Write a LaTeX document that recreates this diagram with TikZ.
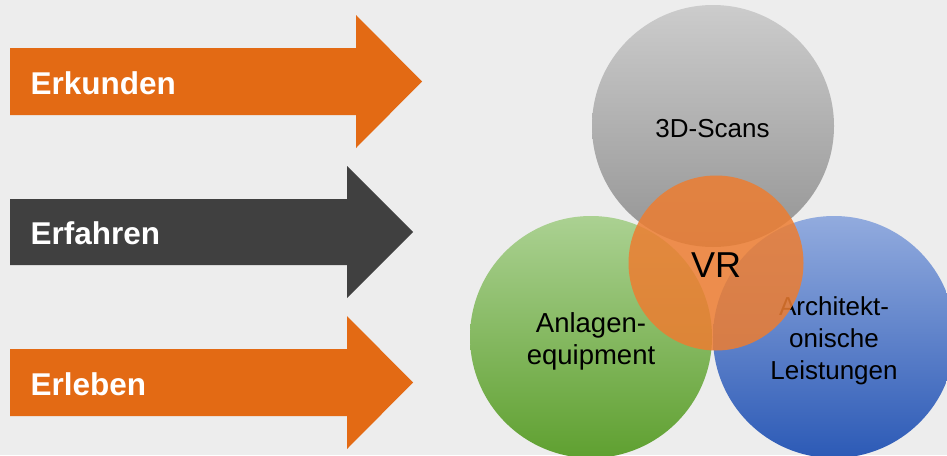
\documentclass[tikz,border=0pt]{standalone}
\usepackage{fontspec}
\setmainfont{Liberation Sans}
\definecolor{bg}{HTML}{EDEDED}
\definecolor{arrorange}{HTML}{E36A14}
\definecolor{arrdark}{HTML}{404040}
\definecolor{vrorange}{HTML}{ED7D31}
\begin{document}
\begin{tikzpicture}[x=1pt,y=1pt,
  arrowlabel/.style={anchor=base west,inner sep=0pt,text=white,font=\fontsize{31.5}{36}\selectfont\bfseries},
  circlabel/.style={inner sep=0pt,align=center,text=black,font=\fontsize{26}{32}\selectfont},
  greenlabel/.style={inner sep=0pt,align=center,text=black,font=\fontsize{27.5}{32}\selectfont},
  bigcirc/.style={circle,minimum size=242pt,inner sep=0pt,draw=none}]
\useasboundingbox (0,0) rectangle (947,-455);
\clip (0,0) rectangle (947,-455);
\fill[bg] (0,0) rectangle (947,-455);
% arrows
\fill[arrorange] (10,-48) -- (356,-48) -- (356,-15) -- (422,-81.5) -- (356,-148) -- (356,-115) -- (10,-115) -- cycle;
\fill[arrdark] (10,-199) -- (347,-199) -- (347,-166) -- (413,-232) -- (347,-298) -- (347,-265) -- (10,-265) -- cycle;
\fill[arrorange] (10,-349) -- (347,-349) -- (347,-316) -- (413,-382.5) -- (347,-449) -- (347,-416) -- (10,-416) -- cycle;
\node[arrowlabel] (erkunden) at (30.5,-94) {Erkunden};
\node[arrowlabel] (erfahren) at (30.5,-244) {Erfahren};
\node[arrowlabel] (erleben) at (30.5,-395) {Erleben};
% circles
\node[bigcirc,top color=black!20,bottom color=black!42] (scans) at (713,-126) {};
\node[bigcirc,top color={rgb,255:red,171;green,209;blue,146},bottom color={rgb,255:red,95;green,160;blue,48}] (anlagen) at (591,-337) {};
\node[bigcirc,top color={rgb,255:red,146;green,171;blue,222},bottom color={rgb,255:red,44;green,90;blue,182}] (archi) at (834,-337) {};
\node[circlabel,anchor=base] (scanstext) at (712.5,-137) {3D-Scans};
\node[greenlabel,anchor=base] (anlagentext) at (591,-332) {Anlagen-};
\node[greenlabel,anchor=base] (equiptext) at (591,-364) {equipment};
\node[circlabel,anchor=base] (architext) at (834,-315) {Architekt-};
\node[circlabel,anchor=base] (onischtext) at (834,-347) {onische};
\node[circlabel,anchor=base] (leisttext) at (834,-379) {Leistungen};
% VR circle
\node[circle,minimum size=175pt,inner sep=0pt,fill=vrorange,fill opacity=0.85] (vr) at (716,-263) {};
\node[inner sep=0pt,anchor=base,font=\fontsize{36}{40}\selectfont] (vrtext) at (716,-277) {VR};
\end{tikzpicture}
\end{document}
